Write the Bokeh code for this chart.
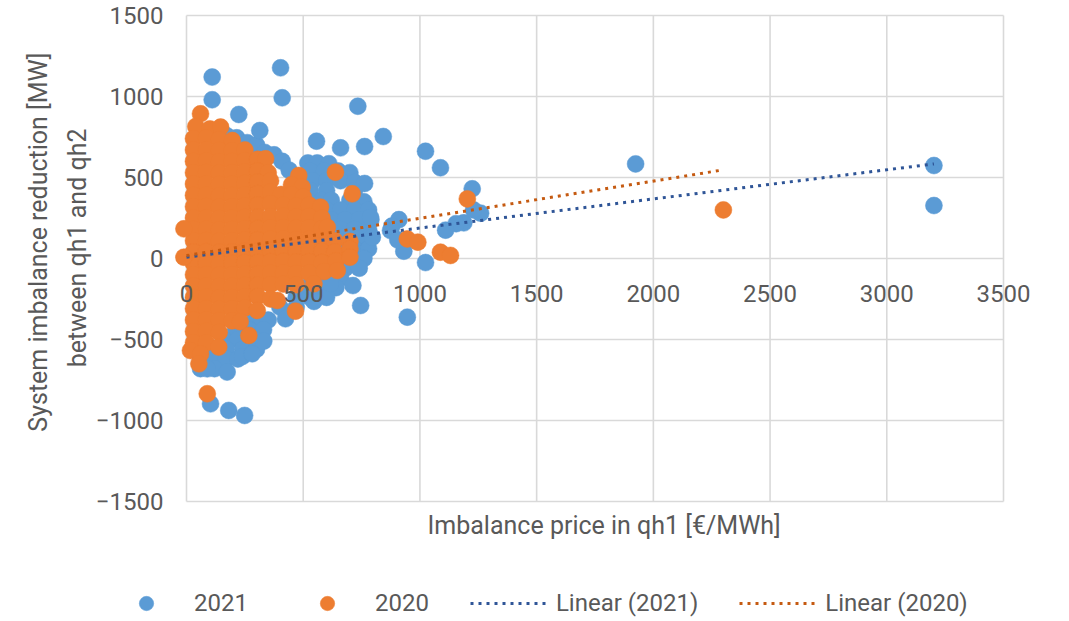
import math
from bokeh.plotting import figure
from bokeh.models import (Range1d, FixedTicker, Legend, LegendItem)
from bokeh.core.properties import value
from bokeh.embed import file_html
from bokeh.resources import INLINE

# ---------------- data ----------------
x_ticks = [0, 500, 1000, 1500, 2000, 2500, 3000, 3500]
y_ticks = [-1500, -1000, -500, 0, 500, 1000, 1500]

# 2021 - isolated points
blue_outlier_x = [110, 110, 403, 410, 224, 314, 734, 557, 660, 763, 843, 1024, 1088, 763, 1224,
                  1260, 1188, 1155, 1110, 910, 931, 1024, 946, 746, 713, 1924, 3202, 3202, 796, 874,
                  788, 880, 905, 103, 181, 249, 174, 89, 239, 281, 331, 424, 546, 617, 1230]
blue_outlier_y = [1120, 980, 1177, 992, 889, 790, 940, 724, 683, 691, 753, 662, 560, 463, 430,
                  280, 220, 215, 175, 240, 45, -25, -362, -290, -167, 584, 574, 327, 131, 173,
                  255, 200, 115, -897, -938, -969, -701, -681, -605, -588, -510, -372, -265, -156, 300]

# 2021 - dense cloud
blue_cloud_x = [170, 215, 260, 300, 335, 375, 410, 440, 470, 520, 560, 610,
                530, 590, 650, 700,
                540, 600, 660, 720,
                530, 600, 720,
                580, 620, 700, 760,
                600, 660, 720, 780,
                620, 680, 740, 790,
                600, 660, 720, 780,
                620, 680, 740,
                600, 660, 720, 780,
                580, 640, 700, 760,
                560, 620, 680, 740,
                540, 600, 660,
                500, 560, 640,
                470, 530, 600,
                400, 470,
                290, 350,
                210, 270, 330,
                160, 220, 290,
                110, 170, 240, 300,
                60, 110, 170, 220,
                60, 120]
blue_cloud_y = [760, 745, 715, 700, 655, 640, 600, 545, 500, 590, 590, 585,
                540, 540, 540, 530,
                480, 480, 480, 470,
                420, 420, 420,
                360, 360, 360, 350,
                300, 300, 300, 300,
                240, 240, 240, 240,
                180, 180, 180, 180,
                120, 120, 120,
                60, 60, 60, 60,
                0, 0, 0, 0,
                -60, -60, -60, -60,
                -120, -120, -120,
                -180, -180, -180,
                -240, -240, -240,
                -300, -300,
                -380, -380,
                -440, -440, -440,
                -500, -500, -500,
                -560, -560, -560, -560,
                -620, -620, -620, -620,
                -680, -680]

# 2020 - dense cloud
orange_cloud_x = [60,
                  40, 100, 146,
                  30, 85, 140, 196,
                  30, 85, 140, 195, 250,
                  30, 85, 140, 195, 250, 305, 339,
                  30, 85, 140, 195, 250, 305, 350, 481, 638,
                  30, 85, 140, 195, 250, 305, 360, 450, 495,
                  30, 85, 140, 195, 250, 305, 360, 405, 450, 500, 710,
                  30, 85, 140, 195, 250, 305, 360, 415, 470, 525, 574,
                  30, 85, 140, 195, 250, 305, 360, 415, 470, 525, 580,
                  30, 85, 140, 195, 250, 305, 360, 415, 470, 525, 580, 603,
                  30, 85, 140, 195, 250, 305, 360, 415, 470, 525, 580, 635, 700,
                  30, 85, 140, 195, 250, 305, 360, 415, 470, 525, 580, 635, 700,
                  30, 85, 140, 195, 250, 305, 360, 415, 470, 525, 580, 640, 700,
                  30, 85, 140, 195, 250, 305, 360, 415, 470, 525, 590, 646,
                  30, 85, 140, 195, 250, 305, 360, 415, 470, 546,
                  30, 85, 140, 195, 250, 305, 360, 389,
                  30, 85, 140, 195, 250, 303, 467,
                  30, 85, 140, 195, 230,
                  30, 85, 140, 267,
                  30, 85, 138,
                  17, 60,
                  53, 89, -11, -11]
orange_cloud_y = [893,
                  815, 800, 811,
                  740, 745, 735, 728,
                  670, 672, 668, 665, 670,
                  600, 603, 598, 600, 605, 612, 615,
                  530, 532, 528, 530, 535, 540, 530, 512, 533,
                  460, 462, 458, 460, 465, 470, 480, 455, 440,
                  390, 392, 388, 390, 395, 400, 410, 395, 395, 380, 399,
                  320, 322, 318, 320, 325, 330, 340, 330, 325, 330, 317,
                  250, 252, 248, 250, 255, 255, 260, 262, 258, 260, 250,
                  180, 182, 178, 180, 185, 185, 190, 192, 188, 190, 185, 193,
                  110, 112, 108, 110, 115, 115, 120, 122, 118, 120, 115, 110, 105,
                  40, 42, 38, 40, 45, 45, 50, 52, 48, 50, 45, 40, 60,
                  -30, -28, -32, -30, -25, -25, -20, -18, -22, -20, -25, -15, 8,
                  -100, -98, -102, -100, -95, -95, -90, -88, -92, -90, -80, -74,
                  -170, -168, -172, -170, -165, -165, -160, -158, -162, -156,
                  -240, -238, -242, -240, -235, -235, -250, -259,
                  -310, -308, -312, -310, -305, -321, -325,
                  -380, -378, -382, -385, -390,
                  -450, -448, -455, -475,
                  -520, -520, -547,
                  -568, -590,
                  -650, -835, 183, 8]

# 2020 - isolated points
orange_outlier_x = [946, 991, 1088, 1131, 1203, 2300]
orange_outlier_y = [121, 101, 39, 19, 368, 300]

# linear trend lines (end points as drawn)
trend_2021_x = [0, 3202]
trend_2021_y = [8, 584]
trend_2020_x = [0, 2300]
trend_2020_y = [18, 547]

series_labels = ["2021", "2020", "Linear (2021)", "Linear (2020)"]
x_title = "Imbalance price in qh1 [€/MWh]"
y_title_1 = "System imbalance reduction [MW]"
y_title_2 = "between qh1 and qh2"

# ---------------- styling / layout ----------------
FONT = "Roboto"
TXT = "#595959"
GRID = "#d9d9d9"
BLUE = "#5b9bd5"
ORANGE = "#ed7d31"
BLUE_TREND = "#2f5597"
ORANGE_TREND = "#c55a11"

W, H = 1060, 621
X0_PX, Y0_PX = 186.0, 258.0          # pixel position of the data origin
SX, SY = 817.0 / 3500, 486.0 / 3000  # pixels per data unit


def dx(px):
    return (px - X0_PX) / SX


def dy(py):
    return (Y0_PX - py) / SY


p = figure(width=W, height=H, output_backend="svg", toolbar_location=None,
           x_range=Range1d(dx(0), dx(W)), y_range=Range1d(dy(H), dy(0)),
           min_border_left=0, min_border_right=0, min_border_top=0, min_border_bottom=0)
p.outline_line_color = None
p.background_fill_color = "white"
p.border_fill_color = "white"
p.xgrid.visible = False
p.ygrid.visible = False

# plot-area grid, limited to the axis extents
gx0, gx1 = min(x_ticks), max(x_ticks)
gy0, gy1 = min(y_ticks), max(y_ticks)
p.segment(x0=[gx0] * len(y_ticks), y0=y_ticks, x1=[gx1] * len(y_ticks), y1=y_ticks,
          line_color=GRID, line_width=1.6)
p.segment(x0=x_ticks, y0=[gy0] * len(x_ticks), x1=x_ticks, y1=[gy1] * len(x_ticks),
          line_color=GRID, line_width=1.6)

# axes drawn through the origin
xa = p.xaxis[0]
xa.ticker = FixedTicker(ticks=x_ticks)
xa.fixed_location = 0
ya = p.yaxis[0]
ya.ticker = FixedTicker(ticks=y_ticks)
ya.fixed_location = 0
for ax in (xa, ya):
    ax.axis_line_color = None
    ax.major_tick_out = 0
    ax.major_tick_in = 0
    ax.minor_tick_out = 0
    ax.minor_tick_in = 0
    ax.major_label_text_font = FONT
    ax.major_label_text_font_size = "24px"
    ax.major_label_text_color = TXT
xa.major_label_standoff = 26
ya.major_label_standoff = 23

blue_x = blue_cloud_x + blue_outlier_x
blue_y = blue_cloud_y + blue_outlier_y
orange_x = orange_cloud_x + orange_outlier_x
orange_y = orange_cloud_y + orange_outlier_y

r21 = p.scatter(blue_x, blue_y, size=17, fill_color=BLUE, line_color=BLUE, line_width=0.5)
r20 = p.scatter(orange_x, orange_y, size=17, fill_color=ORANGE, line_color=ORANGE, line_width=0.5)
t21 = p.line(trend_2021_x, trend_2021_y, line_color=BLUE_TREND, line_width=3, line_dash="3 5")
t20 = p.line(trend_2020_x, trend_2020_y, line_color=ORANGE_TREND, line_width=3, line_dash="3 5")

# axis titles
common = dict(text_font=value(FONT), text_font_size=value("25px"), text_color=TXT)
p.text(x=[dx(427)], y=[dy(525)], text=[x_title], text_align="left",
       text_baseline="middle", **common)
p.text(x=[dx(38)], y=[dy(52)], text=[y_title_1], angle=math.pi / 2, text_align="right",
       text_baseline="middle", **common)
p.text(x=[dx(77)], y=[dy(128)], text=[y_title_2], angle=math.pi / 2, text_align="right",
       text_baseline="middle", **common)

legend = Legend(items=[LegendItem(label=series_labels[0], renderers=[r21]),
                       LegendItem(label=series_labels[1], renderers=[r20]),
                       LegendItem(label=series_labels[2], renderers=[t21]),
                       LegendItem(label=series_labels[3], renderers=[t20])],
                orientation="horizontal", location=(108, 0),
                glyph_width=76, glyph_height=36, label_standoff=10, spacing=41,
                padding=0, margin=0, border_line_color=None, background_fill_alpha=0,
                label_text_font=FONT, label_text_font_size="24px", label_text_color=TXT)
p.add_layout(legend)

open("out.html", "w").write(file_html(p, INLINE))
